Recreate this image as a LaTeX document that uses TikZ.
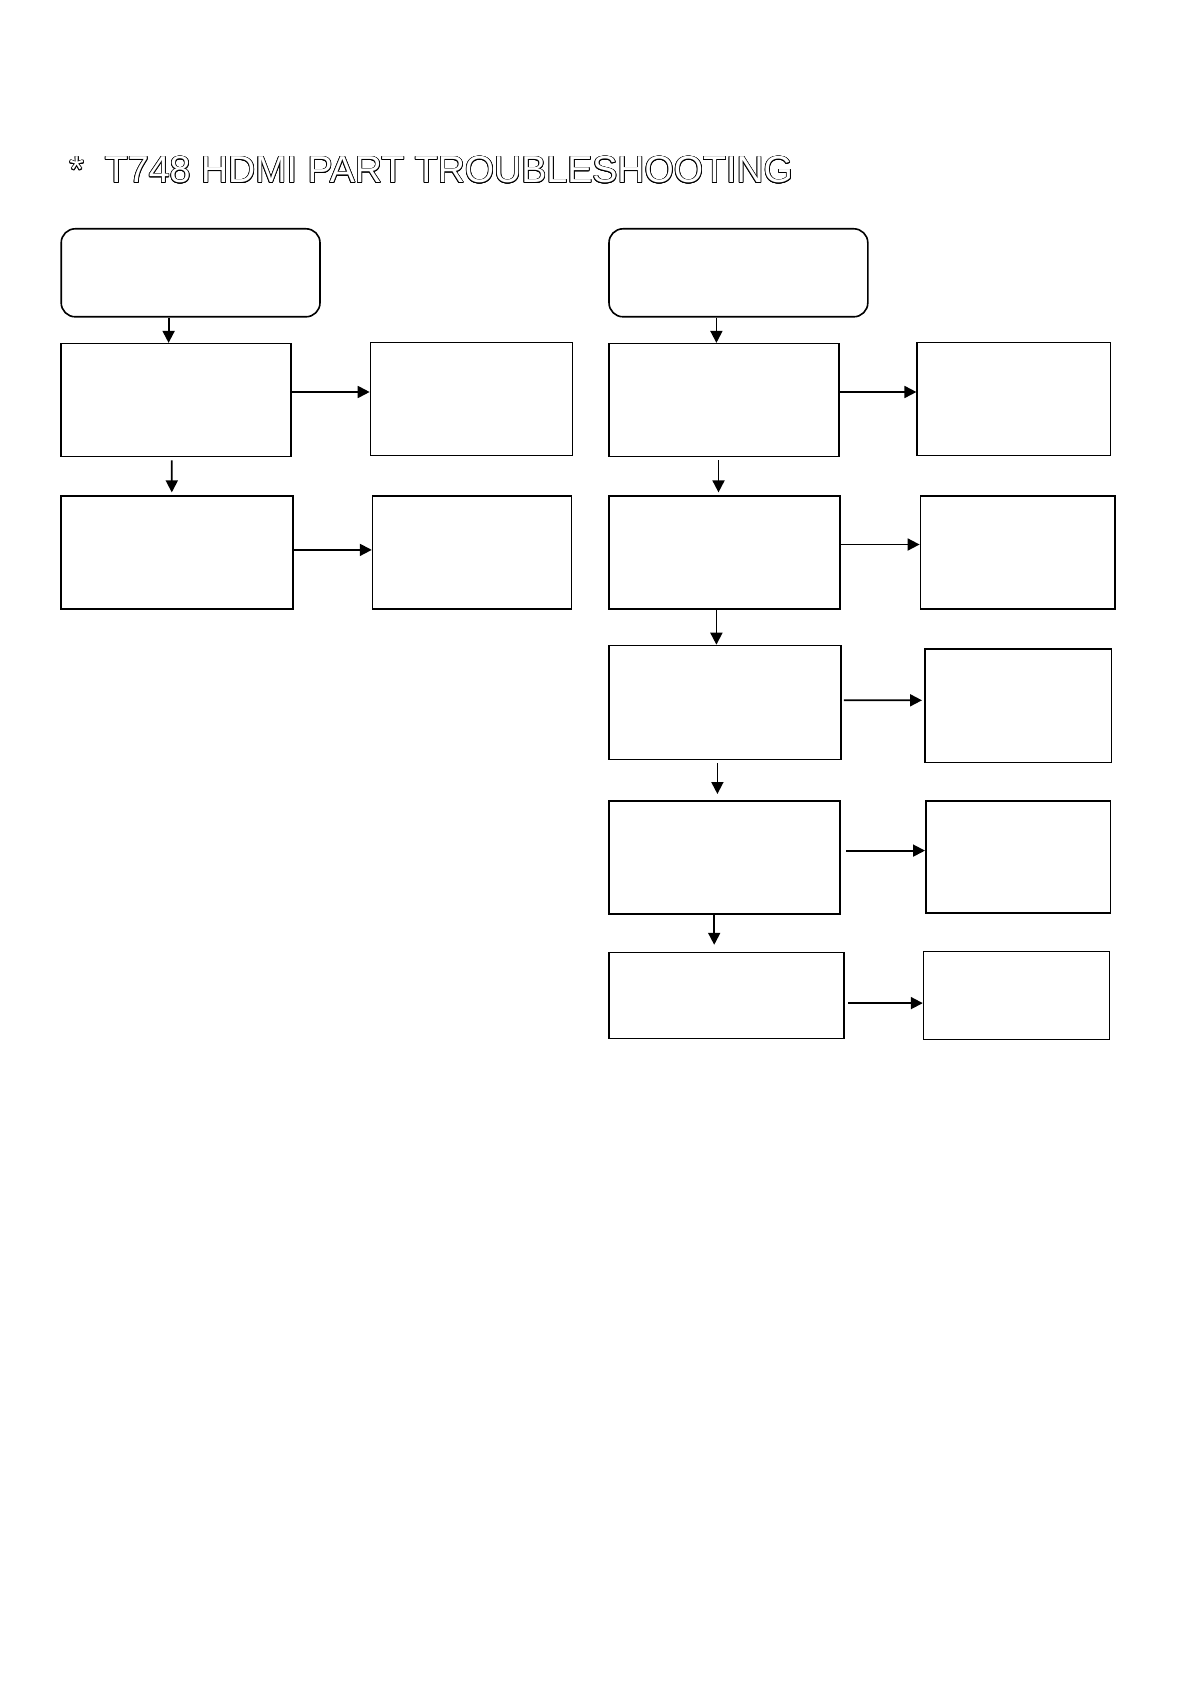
\documentclass[tikz,border=0pt]{standalone}
\usepackage{fontspec}
\setmainfont{Liberation Sans}
\usepackage{contour}
\contourlength{0.35pt}
\usetikzlibrary{arrows.meta,calc}

\tikzset{
  flowbox/.style={draw=black, line width=0.8pt, inner sep=0pt},
  startbox/.style={flowbox, rounded corners=7pt},
  flow/.style={line width=0.9pt, -{Triangle[length=6pt,width=6pt]}}
}

\begin{document}
\begin{tikzpicture}[x=0.5pt, y=-0.5pt]
\useasboundingbox (0,0) rectangle (1190,1684);

% -------- Title --------
\node[anchor=base west, inner sep=0pt, font=\fontsize{18.8}{23}\selectfont] (title) at (69,183)
{\contour{black}{\textcolor{white}{*~~T748 HDMI PART TROUBLESHOOTING}}};

% -------- Left column --------
\node[startbox, minimum width=129.4pt, minimum height=44pt] (startL) at (190.6,272.8) {};
\node[flowbox, minimum width=114.9pt, minimum height=56.4pt] (L1) at (176.1,400.1) {};
\node[flowbox, minimum width=101pt, minimum height=56.4pt] (L1R) at (471.5,399) {};
\node[flowbox, minimum width=116pt, minimum height=56.4pt] (L2) at (177.2,552.6) {};
\node[flowbox, minimum width=99.4pt, minimum height=56.4pt] (L2R) at (472,552.6) {};

% -------- Right column --------
\node[startbox, minimum width=129.4pt, minimum height=44pt] (startR) at (738.4,272.8) {};
\node[flowbox, minimum width=114.9pt, minimum height=56.4pt] (R1) at (723.9,400.1) {};
\node[flowbox, minimum width=96.7pt, minimum height=56.4pt] (R1R) at (1013.9,399) {};
\node[flowbox, minimum width=115.5pt, minimum height=56.4pt] (R2) at (724.4,552.6) {};
\node[flowbox, minimum width=97.2pt, minimum height=56.4pt] (R2R) at (1017.6,552.6) {};
\node[flowbox, minimum width=116pt, minimum height=56.9pt] (R3) at (725,702.4) {};
\node[flowbox, minimum width=93.4pt, minimum height=56.9pt] (R3R) at (1018.2,705.6) {};
\node[flowbox, minimum width=115.5pt, minimum height=56.4pt] (R4) at (724.4,857.6) {};
\node[flowbox, minimum width=92.4pt, minimum height=55.9pt] (R4R) at (1018.2,857) {};
\node[flowbox, minimum width=117.6pt, minimum height=43pt] (R5) at (726.6,995.6) {};
\node[flowbox, minimum width=93pt, minimum height=44pt] (R5R) at (1016.6,995.6) {};

% -------- Connectors, left --------
\draw[flow] ($(startL.south)+(-22,0)$) -- ($(L1.north)+(-7.5,0)$);
\draw[flow] ($(L1.east)+(0,-8.1)$) -- ($(L1R.west)+(0,-7)$);
\draw[flow, shorten <=1.5pt, shorten >=1.5pt] ($(L1.south)+(-4.3,0)$) -- ($(L2.north)+(-5.4,0)$);
\draw[flow] ($(L2.east)+(0,-2.7)$) -- ($(L2R.west)+(0,-2.7)$);

% -------- Connectors, right --------
\draw[flow] ($(startR.south)+(-22,0)$) -- ($(R1.north)+(-7.5,0)$);
\draw[flow] ($(R1.east)+(0,-8.1)$) -- ($(R1R.west)+(0,-7)$);
\draw[flow, shorten <=1.5pt, shorten >=1.5pt] ($(R1.south)+(-5.4,0)$) -- ($(R2.north)+(-5.9,0)$);
\draw[flow] ($(R2.east)+(-1,-8.1)$) -- ($(R2R.west)+(0,-8.1)$);
\draw[flow] ($(R2.south)+(-8,0)$) -- ($(R3.north)+(-8.6,0)$);
\draw[flow, shorten <=1pt, shorten >=1pt] ($(R3.east)+(0,-2.1)$) -- ($(R3R.west)+(0,-5.3)$);
\draw[flow, shorten <=1.5pt, shorten >=3.2pt] ($(R3.south)+(-7.6,0)$) -- ($(R4.north)+(-7,0)$);
\draw[flow, shorten <=2.7pt] ($(R4.east)+(0,-7)$) -- ($(R4R.west)+(0,-6.4)$);
\draw[flow, shorten >=3.5pt] ($(R4.south)+(-10.2,0)$) -- ($(R5.north)+(-12.4,0)$);
\draw[flow, shorten <=1.6pt] ($(R5.east)+(0,7.5)$) -- ($(R5R.west)+(0,7.5)$);

\end{tikzpicture}
\end{document}
